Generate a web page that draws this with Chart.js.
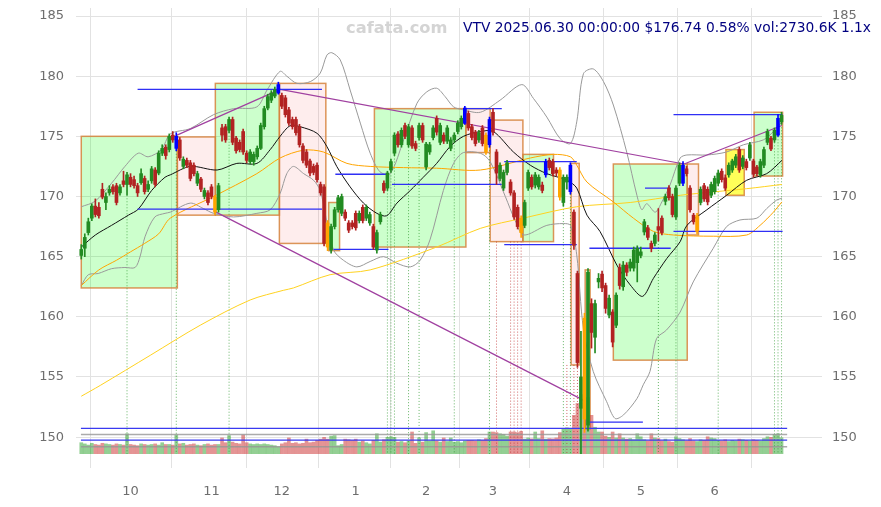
<!DOCTYPE html>
<html>
<head>
<meta charset="utf-8">
<title>VTV daily</title>
<script src="https://cdn.jsdelivr.net/npm/chart.js@4.4.1/dist/chart.umd.min.js"></script>
<style>
  body { margin: 0; background: #fff; }
  #wrap { position: relative; width: 881px; height: 507px; }
  #mark { position: absolute; left: 346px; top: 18px; font: bold 16.3px "DejaVu Sans"; color: #d4d4d4; }
  #head { position: absolute; right: 10px; top: 19px; font: 13.8px "DejaVu Sans"; color: #000080; white-space: nowrap; }
</style>
</head>
<body>
<div id="wrap">
  <canvas id="chart" width="881" height="507"></canvas>
  <div id="mark">cafata.com</div>
  <div id="head">VTV 2025.06.30 00:00:00 $176.74 0.58% vol:2730.6K 1.1x</div>
</div>
<script>
// ---- data (trading day index 0 = 2024-09-11) ----
const monthTicks = [14, 37, 57, 78, 98, 117, 138, 159, 180];
const monthLabels = ['10', '11', '12', '1', '2', '3', '4', '5', '6'];
const priceTicks = [150, 155, 160, 165, 170, 175, 180, 185];

const open = [
  165.1, 165.7, 167.0, 168.2, 169.2, 169.1, 170.6, 169.5, 170.3, 170.8,
  170.9, 170.3, 171.3, 171.0, 171.6, 171.4, 170.9, 171.15, 171.5, 170.6,
  171.3, 172.2, 171.95, 173.6, 174.1, 173.9, 175.1, 174.0, 174.7, 172.5,
  173.0, 172.8, 172.6, 171.1, 171.45, 170.0, 170.3, 170.8, 169.95, 168.9,
  175.7, 175.8, 175.5, 176.4, 174.85, 174.5, 175.4, 173.6, 172.9, 172.9,
  173.3, 174.0, 175.8, 177.35, 178.0, 178.35, 178.6, 178.4, 178.2, 177.2,
  176.4, 176.4, 175.8, 174.2, 173.7, 172.95, 172.5, 172.6, 171.0, 170.8,
  167.8, 165.55, 167.5, 168.9, 168.6, 168.7, 167.8, 167.8, 168.6, 168.0,
  169.1, 168.2, 167.8, 167.5, 165.55, 167.9, 171.1, 170.7, 172.2, 173.6,
  175.2, 174.3, 175.9, 174.3, 175.7, 174.4, 174.9, 175.9, 172.45, 173.7,
  174.9, 176.5, 174.5, 175.1, 174.6, 174.0, 174.7, 175.4, 175.8, 176.1,
  176.9, 175.8, 175.35, 174.7, 175.7, 175.1, 174.3, 177.0, 173.7, 171.5,
  170.7, 172.0, 171.2, 170.3, 169.1, 168.2, 167.6, 170.7, 171.6, 170.95,
  170.8, 170.95, 171.8, 173.0, 172.9, 172.2, 172.2, 169.5, 171.2, 170.4,
  168.7, 163.6, 152.4, 159.9, 151.0, 161.1, 158.3, 162.9, 163.55, 162.6,
  160.15, 160.4, 159.3, 164.1, 162.5, 164.3, 164.05, 164.05, 164.5, 165.1,
  167.05, 167.4, 166.1, 166.1, 167.5, 168.2, 169.6, 170.7, 170.0, 168.3,
  171.1, 171.1, 172.3, 170.7, 168.45, 167.1, 169.5, 170.9, 170.6, 170.1,
  170.4, 171.1, 172.1, 171.55, 171.8, 172.2, 172.6, 173.9, 172.5, 172.9,
  173.2, 172.95, 172.45, 171.8, 172.6, 174.5, 174.85, 174.7, 175.1, 176.2
];
const high = [
  166.0, 166.9, 168.2, 169.4, 169.8, 169.5, 171.1, 170.3, 170.9, 171.0,
  171.1, 171.0, 172.1, 172.0, 171.9, 171.7, 171.1, 172.3, 171.7, 171.3,
  172.5, 172.4, 173.8, 174.3, 174.3, 175.2, 175.4, 175.3, 174.9, 173.3,
  173.2, 173.0, 172.8, 172.1, 171.6, 170.7, 170.5, 171.0, 170.1, 171.1,
  176.0, 176.0, 176.6, 176.6, 175.0, 174.7, 175.6, 173.8, 173.9, 173.7,
  174.2, 176.1, 177.5, 178.5, 178.8, 179.1, 179.5, 178.6, 178.4, 177.4,
  176.6, 176.6, 176.0, 174.4, 173.9, 173.1, 172.7, 172.8, 171.2, 171.0,
  168.0, 167.7, 169.1, 170.1, 170.2, 168.9, 168.0, 168.0, 168.8, 168.8,
  169.3, 169.3, 168.7, 167.7, 167.2, 168.7, 171.3, 172.1, 173.1, 175.3,
  175.4, 175.7, 176.1, 176.0, 175.9, 174.6, 176.1, 176.1, 174.5, 174.5,
  175.9, 176.7, 176.1, 175.3, 175.9, 174.9, 175.3, 176.3, 176.7, 177.5,
  177.1, 176.0, 175.5, 175.5, 175.9, 175.3, 176.6, 177.3, 173.9, 172.8,
  172.2, 173.0, 171.4, 170.5, 169.3, 168.4, 169.7, 172.2, 171.8, 172.0,
  171.8, 171.2, 173.1, 173.2, 173.1, 172.4, 172.4, 171.8, 171.8, 172.8,
  168.9, 163.8, 158.8, 160.3, 164.0, 161.5, 161.4, 163.6, 163.8, 162.8,
  161.8, 160.6, 162.0, 164.4, 164.6, 164.5, 164.8, 165.8, 165.9, 165.8,
  168.1, 167.6, 166.3, 167.0, 169.0, 168.4, 170.2, 170.9, 170.2, 170.9,
  172.8, 172.9, 172.5, 170.9, 168.6, 168.6, 170.8, 171.1, 170.8, 171.2,
  171.7, 172.2, 172.3, 171.8, 172.8, 173.1, 173.5, 174.1, 173.4, 173.1,
  174.5, 173.1, 172.6, 173.1, 174.1, 175.6, 175.0, 175.7, 176.8, 177.0
];
const low = [
  164.8, 165.0, 166.8, 168.0, 168.3, 168.2, 169.8, 168.9, 170.1, 170.2,
  169.3, 170.1, 170.8, 170.1, 170.8, 170.7, 170.0, 171.0, 170.2, 170.4,
  171.1, 170.8, 171.8, 173.4, 173.1, 173.7, 174.5, 173.8, 173.0, 172.3,
  172.4, 171.3, 171.7, 170.9, 170.4, 169.8, 169.3, 169.8, 168.5, 168.7,
  174.6, 174.5, 175.3, 174.3, 173.6, 173.7, 173.5, 172.8, 172.7, 172.6,
  173.1, 173.9, 175.6, 177.2, 177.8, 178.2, 178.5, 177.3, 176.6, 175.9,
  175.6, 175.1, 174.1, 172.8, 172.4, 171.7, 171.8, 171.2, 170.1, 165.9,
  165.5, 165.3, 167.3, 168.7, 168.4, 168.0, 167.0, 167.3, 167.2, 167.8,
  167.8, 168.0, 167.6, 165.6, 165.3, 167.7, 170.3, 170.5, 172.0, 173.4,
  174.1, 174.1, 174.8, 174.1, 174.0, 173.8, 174.7, 174.5, 172.2, 173.5,
  174.7, 175.1, 174.3, 174.4, 174.4, 173.8, 174.5, 175.2, 175.6, 176.0,
  175.5, 174.7, 174.2, 174.5, 174.2, 173.5, 174.1, 175.1, 171.0, 171.3,
  170.5, 171.8, 170.1, 168.1, 167.3, 166.6, 167.4, 170.5, 170.6, 170.7,
  170.6, 170.3, 171.6, 172.2, 171.7, 171.7, 169.7, 169.2, 170.6, 170.2,
  165.6, 155.8, 148.6, 150.4, 150.5, 157.4, 157.0, 162.4, 162.1, 160.3,
  159.9, 157.5, 159.1, 162.3, 162.2, 163.4, 163.8, 163.8, 162.9, 164.9,
  166.8, 166.4, 165.4, 165.9, 166.3, 166.8, 169.3, 169.7, 168.3, 168.1,
  170.9, 170.9, 171.7, 168.7, 167.7, 166.9, 169.3, 169.6, 169.3, 169.9,
  170.2, 170.9, 171.2, 170.5, 171.6, 172.0, 172.4, 172.0, 172.3, 172.2,
  173.0, 171.6, 171.7, 171.6, 172.4, 174.3, 173.8, 174.5, 175.0, 176.0
];
const close = [
  165.6, 166.6, 167.9, 169.2, 168.5, 168.4, 169.95, 170.0, 170.6, 170.4,
  169.5, 170.8, 171.0, 171.8, 171.0, 170.9, 170.3, 171.9, 170.4, 171.0,
  172.3, 171.0, 173.6, 174.0, 173.4, 175.0, 174.7, 175.0, 173.2, 173.1,
  172.6, 171.5, 171.9, 171.9, 170.6, 170.5, 169.5, 170.0, 168.7, 170.9,
  175.1, 174.7, 176.4, 174.5, 173.8, 173.9, 173.7, 173.0, 173.7, 173.5,
  174.0, 175.9, 177.3, 178.3, 178.6, 178.9, 179.3, 177.5, 176.8, 176.1,
  175.8, 175.3, 174.3, 173.0, 172.6, 171.95, 172.0, 171.4, 170.3, 166.1,
  165.8, 167.5, 168.9, 169.9, 170.0, 168.2, 167.2, 167.5, 167.4, 168.6,
  168.0, 169.1, 168.5, 165.8, 167.0, 168.5, 170.5, 171.95, 172.9, 175.1,
  174.3, 175.5, 175.0, 175.8, 174.2, 174.0, 175.9, 174.7, 174.35, 174.3,
  175.7, 175.35, 175.9, 174.6, 175.7, 174.7, 175.1, 176.1, 176.5, 177.35,
  175.7, 174.9, 174.4, 175.3, 174.4, 173.7, 176.4, 175.35, 171.95, 172.6,
  172.0, 172.8, 170.3, 168.3, 167.5, 167.0, 169.5, 172.0, 170.8, 171.8,
  171.6, 170.5, 172.9, 172.4, 171.9, 171.95, 169.95, 171.6, 171.6, 172.6,
  165.95, 156.2, 155.0, 151.5, 163.7, 158.7, 161.1, 163.2, 162.4, 160.7,
  161.55, 157.9, 161.8, 162.6, 164.3, 163.7, 164.55, 165.55, 165.7, 165.4,
  167.9, 166.6, 165.7, 166.8, 167.2, 167.0, 170.0, 169.9, 168.5, 170.7,
  172.6, 172.6, 171.9, 168.9, 167.9, 168.4, 170.6, 169.8, 169.55, 171.0,
  171.5, 171.95, 171.4, 170.7, 172.6, 172.95, 173.3, 172.2, 173.2, 172.4,
  174.3, 171.85, 171.9, 172.9, 173.9, 175.4, 173.95, 175.5, 176.5, 176.74
];
// volume, thousands of shares
const volume = [
  1900, 1700, 1500, 1800, 1600, 1500, 1800, 1700, 1600, 1500,
  1700, 1600, 1500, 3400, 1600, 1500, 1400, 1700, 1600, 1500,
  1600, 1700, 1500, 1900, 1600, 1600, 1500, 3200, 1700, 1800,
  1500, 1600, 1700, 1500, 1400, 1600, 1700, 1500, 1600, 1600,
  2700, 1900, 3100, 2000, 1800, 1700, 3200, 1900, 1700, 1600,
  1700, 1600, 1700, 1600, 1500, 1400, 1200, 1700, 1900, 2700,
  1800, 1900, 1700, 1800, 2500, 1900, 2000, 2300, 2500, 2800,
  2500, 3000, 3100, 1400, 1600, 2500, 2400, 2300, 2500, 2000,
  2200, 1900, 1700, 2300, 3400, 2000, 2400, 2800, 2900, 2800,
  2000, 2100, 1900, 2200, 3700, 1800, 2700, 2000, 3600, 2200,
  3900, 2200, 2000, 2700, 2100, 2700, 2000, 2100, 1900, 2200,
  2300, 2300, 2200, 2400, 2300, 2600, 3700, 3700, 3600, 3400,
  3300, 3000, 3700, 3700, 3600, 3800, 2500, 2700, 2550, 3700,
  2600, 3900, 2500, 2600, 2550, 2700, 3600, 4200, 4400, 4300,
  6500, 8500, 10000, 8500, 9500, 6500, 4500, 3700, 3700, 3000,
  2800, 3700, 2700, 3400, 2700, 2500, 2600, 2400, 3400, 2900,
  2400, 2200, 3400, 2700, 2600, 2200, 2500, 2100, 2000, 2900,
  2600, 2400, 2200, 2600, 2200, 2100, 2400, 2300, 2900, 2700,
  2600, 2300, 2200, 2400, 2100, 2300, 2200, 2500, 2400, 2300,
  2200, 2400, 2300, 2200, 2600, 2900, 2800, 3300, 3400, 2730.6
];
const blueDays = [27, 56, 109, 116, 132, 139, 171, 198];
const orangeDays = [38, 70, 115, 125, 136, 143, 175];

// moving averages and bands, sampled along the day index
const maShortX = [0, 4, 8.6, 13.4, 16.2, 20, 23.8, 25.3, 31, 38.6, 44.2, 49.9, 53.7, 56.5, 59.4, 62.2, 67, 69.8, 72.6, 76.4, 80.2, 84, 86.8, 89.7, 93.5, 97.2, 101, 104.8, 108.6, 113.4, 117.1, 122.8, 127.6, 132.3, 138, 140.8, 143.7, 147.4, 152.2, 156, 159.5, 162.6, 166.4, 170.2, 172.1, 177.8, 183.4, 189.1, 194.8, 199.1];
const maShortY = [165.8, 166.8, 167.6, 168.45, 168.95, 170.5, 171.6, 171.8, 172.5, 172.2, 172.75, 172.75, 173.9, 175.0, 175.9, 175.8, 175.25, 174.15, 172.5, 170.8, 169.45, 168.6, 168.4, 169.45, 170.5, 171.6, 172.75, 174.15, 175.0, 175.4, 175.4, 173.7, 172.6, 171.9, 171.35, 170.7, 168.45, 167.1, 164.3, 162.65, 161.7, 163.2, 164.85, 166.25, 167.6, 168.9, 170.1, 171.35, 171.9, 173.0];
const maMidX = [0, 5, 10, 14, 18, 22, 25.3, 37.6, 49.9, 56.5, 63.2, 68.8, 75.5, 82.1, 91.6, 101, 113.4, 127.6, 134.2, 139, 140.8, 143.7, 151.2, 156.9, 162.6, 168.3, 179.6, 189.1, 192.9, 196.7, 199.1];
const maMidY = [162.6, 163.9, 164.7, 165.4, 166.1, 166.9, 168.2, 170.0, 171.9, 173.2, 173.85, 173.7, 172.75, 172.5, 172.4, 172.35, 172.2, 173.2, 173.5, 173.3, 172.6, 171.2, 169.55, 168.2, 167.1, 166.8, 166.7, 166.8, 167.6, 168.7, 169.55];
const maLongX = [0, 5.4, 19.6, 33.8, 48, 57.4, 60.3, 70.7, 82.1, 101, 113.4, 125.6, 140.8, 156, 170.2, 189.1, 199.1];
const maLongY = [153.4, 154.3, 156.8, 159.3, 161.4, 162.2, 162.4, 163.5, 163.9, 165.8, 167.35, 168.2, 169.15, 169.5, 170.1, 170.65, 171.0];
const bandUpX = [0, 3.9, 8.6, 12.4, 16.2, 19, 22.8, 25.3, 31, 37.6, 43.3, 49.9, 52.8, 56.5, 58.4, 61.3, 65.1, 67.9, 69.8, 71.2, 73.6, 76.4, 79.3, 82.1, 84.9, 87.8, 91.6, 95.4, 98.2, 101, 103.4, 105.8, 108.6, 113.4, 119, 125.2, 128.5, 132.3, 136.1, 139, 140.8, 142.7, 145.5, 148.4, 151.2, 155, 157.9, 159.3, 160.7, 163.1, 165, 167.3, 170.2, 172.1, 177.8, 183.4, 188.2, 193.8, 196.7, 199.1];
const bandUpY = [169.15, 169.6, 171.1, 172.5, 173.6, 173.3, 173.9, 175.2, 175.65, 176.8, 177.3, 177.45, 178.85, 180.4, 180.0, 179.4, 179.55, 180.25, 181.75, 181.95, 181.35, 178.85, 176.1, 173.6, 172.05, 171.9, 174.7, 177.75, 178.7, 179.0, 178.3, 177.45, 177.2, 177.0, 178.0, 179.3, 178.15, 176.6, 174.8, 174.4, 176.2, 180.2, 180.6, 179.55, 177.6, 173.7, 170.1, 168.9, 169.4, 168.7, 169.55, 170.95, 173.2, 173.45, 173.45, 173.7, 174.3, 174.7, 175.4, 176.2];
const bandLowX = [0, 2, 4.8, 8.6, 12.4, 15.3, 16.7, 18.1, 20.9, 23.8, 25.3, 31, 34.7, 37.6, 43.3, 49.9, 53.7, 56.5, 58.4, 60.3, 63.2, 66, 67.9, 69.3, 71.7, 74.5, 78.3, 82.1, 85.9, 89.7, 93.5, 96.3, 99.1, 102.9, 105.8, 108.6, 113.4, 116.2, 120.5, 123.3, 125.7, 132.3, 137, 139, 140.8, 142.7, 145.5, 149.3, 151.7, 154.1, 157.9, 159.7, 161.6, 163.5, 166.3, 170.2, 173.9, 179.6, 183.4, 187.2, 192, 194.8, 197.6, 199.1];
const bandLowY = [162.6, 163.5, 163.6, 164.0, 164.1, 164.1, 165.0, 166.65, 168.3, 168.6, 168.7, 169.45, 169.0, 168.6, 168.3, 168.6, 168.9, 170.25, 171.9, 172.5, 171.9, 171.35, 170.5, 168.6, 165.55, 164.7, 164.15, 164.6, 165.0, 164.45, 164.15, 164.7, 166.4, 170.5, 172.75, 173.65, 173.6, 172.9, 170.0, 168.0, 166.8, 167.6, 167.75, 167.6, 165.15, 159.0, 155.45, 152.95, 151.55, 151.85, 153.2, 154.35, 155.45, 158.2, 158.9, 160.4, 162.9, 165.7, 167.5, 168.05, 168.2, 169.0, 169.7, 169.85];

// range boxes: from/to day index, top/bottom price, kind
const boxFrom = [0, 27.3, 38.1, 56.3, 70.3, 83.3, 109.3, 116.2, 125.5, 139.2, 143.2, 151.2, 172.2, 183.2, 191.2];
const boxTo = [27.3, 38.1, 56.3, 69.5, 73.4, 109.3, 116.2, 125.5, 134.2, 141.5, 144.6, 172.2, 175.4, 188.4, 199.3];
const boxTop = [175.0, 174.95, 179.4, 179.4, 169.5, 177.3, 177.3, 176.35, 173.5, 172.75, 163.9, 172.7, 172.7, 173.9, 177.0];
const boxBottom = [162.4, 168.45, 168.45, 166.1, 165.5, 165.8, 173.65, 166.25, 166.25, 156.0, 150.7, 156.4, 166.8, 170.1, 171.7];
const boxKind = ['g', 'p', 'g', 'p', 'g', 'g', 'p', 'p', 'g', 'p', 'g', 'g', 'p', 'y', 'g'];

// level lines: price, from, to
const levelPrice = [178.9, 168.95, 171.85, 165.6, 171.0, 177.3, 172.9, 166.0, 165.7, 170.7, 176.8, 167.1, 151.25];
const levelFrom = [16.0, 16.0, 72.2, 71.7, 88.3, 108.6, 120.2, 120.2, 144.4, 160.2, 168.3, 168.3, 144.4];
const levelTo = [68.4, 68.4, 87.3, 87.3, 119.5, 119.5, 140.8, 140.8, 167.5, 167.5, 199.3, 199.3, 159.6];
const volLineBlue = [150.73, 149.75];
const volLineGrey = [150.23, 149.2];

// trend lines: [fromIdx, fromPrice, toIdx, toPrice]
const trendLines = [
  [27.2, 175.1, 56.5, 178.9],
  [56.5, 178.9, 171.3, 172.7],
  [171.3, 172.7, 199.1, 175.9],
  [38.3, 168.7, 143.5, 152.95]
];

// signal markers: day, price where the dotted line starts, kind
const signalDay = [13, 27, 42, 87, 88, 89, 93, 96, 106, 116, 137, 139, 164, 169, 181, 197, 198, 199, 118, 122, 123, 124, 125, 138, 140, 141];
const signalTop = [170.1, 173.8, 175.3, 170.5, 172.0, 173.4, 174.1, 174.7, 174.5, 174.1, 169.2, 170.2, 166.3, 168.1, 170.9, 174.5, 175.0, 176.0, 166.25, 166.25, 166.25, 166.25, 166.25, 156.0, 156.0, 156.0];
const signalKind = ['g', 'g', 'g', 'g', 'g', 'g', 'g', 'g', 'g', 'g', 'g', 'g', 'g', 'g', 'g', 'g', 'g', 'g', 'r', 'r', 'r', 'r', 'r', 'r', 'r', 'r'];

const PRICE_MIN = 148.6;
const PRICE_MAX = 185.665;

const COLORS = {
  up: '#228b22',
  down: '#b22222',
  blue: '#0000ff',
  orange: '#ffa500',
  grid: '#e2e2e2',
  tick: '#6e6e6e'
};

/**
 * Colour of one candle
 */
function candleColor(i) {
  if (blueDays.includes(i)) return COLORS.blue;
  if (orangeDays.includes(i)) return COLORS.orange;
  return close[i] >= open[i] ? COLORS.up : COLORS.down;
}

/**
 * Turn [x0, y0, x1, y1] pieces into one line dataset with gaps
 */
function segments(list) {
  const pts = [];
  list.forEach(([x0, y0, x1, y1]) => {
    pts.push({ x: x0, y: y0 }, { x: x1, y: y1 }, { x: x1, y: null });
  });
  return pts;
}

function lineSet(data, color, width, order, extra = {}) {
  return {
    type: 'line', data, borderColor: color, borderWidth: width,
    pointRadius: 0, fill: false, spanGaps: false, order,
    xAxisID: 'x', yAxisID: 'y', ...extra
  };
}

function zip(xs, ys) {
  return xs.map((x, k) => ({ x, y: ys[k] }));
}

function signalSegments(kind) {
  return segments(signalDay
    .map((d, k) => [d, signalTop[k], d, PRICE_MIN, signalKind[k]])
    .filter(s => s[4] === kind));
}

const days = open.map((_, i) => i);

// range boxes go under everything else
const boxPlugin = {
  id: 'boxes',
  beforeDatasetsDraw(chart) {
    const { ctx, chartArea, scales: { x, y } } = chart;
    const fills = { g: 'rgba(0,255,0,0.2)', p: 'rgba(240,60,60,0.09)', y: 'rgba(255,255,0,0.65)' };
    ctx.save();
    ctx.beginPath();
    ctx.rect(chartArea.left, chartArea.top, chartArea.right - chartArea.left, chartArea.bottom - chartArea.top);
    ctx.clip();
    boxFrom.forEach((from, k) => {
      const x0 = x.getPixelForValue(from);
      const x1 = x.getPixelForValue(boxTo[k]);
      const y0 = y.getPixelForValue(boxTop[k]);
      const y1 = y.getPixelForValue(boxBottom[k]);
      ctx.fillStyle = fills[boxKind[k]];
      ctx.fillRect(x0, y0, x1 - x0, y1 - y0);
      ctx.strokeStyle = 'rgba(214,130,60,0.85)';
      ctx.lineWidth = 1.5;
      ctx.strokeRect(x0, y0, x1 - x0, y1 - y0);
    });
    ctx.restore();
  }
};

const datasets = [
  {
    type: 'bar', label: 'volume', yAxisID: 'vol', xAxisID: 'x', order: 20, grouped: false,
    data: days.map(i => ({ x: i, y: volume[i] })),
    backgroundColor: days.map(i => close[i] >= open[i] ? 'rgba(40,160,40,0.5)' : 'rgba(205,60,60,0.55)'),
    barThickness: 3
  },
  lineSet(signalSegments('g'), 'rgba(40,150,40,0.7)', 1, 15, { borderDash: [1, 2] }),
  lineSet(signalSegments('r'), 'rgba(190,40,40,0.7)', 1, 15, { borderDash: [1, 2] }),
  lineSet(segments(volLineGrey.map(v => [-0.1, v, 200.6, v])), 'rgba(150,150,150,0.8)', 1.5, 14),
  lineSet(segments(volLineBlue.map(v => [-0.1, v, 200.6, v])), '#3a3af0', 1.3, 14),
  lineSet(zip(bandUpX, bandUpY), '#999', 1, 12, { tension: 0.3 }),
  lineSet(zip(bandLowX, bandLowY), '#999', 1, 12, { tension: 0.3 }),
  lineSet(zip(maLongX, maLongY), '#ffd21f', 1, 11, { tension: 0.3 }),
  lineSet(zip(maMidX, maMidY), '#ffa500', 1, 10, { tension: 0.3 }),
  lineSet(zip(maShortX, maShortY), '#111', 1, 9, { tension: 0.3 }),
  lineSet(segments(trendLines), '#a040a0', 1.2, 8),
  lineSet(segments(levelPrice.map((p, k) => [levelFrom[k], p, levelTo[k], p])), '#2f2ff5', 1.3, 7),
  {
    type: 'bar', label: 'wick', yAxisID: 'y', xAxisID: 'x', order: 2, grouped: false,
    data: days.map(i => ({ x: i, y: [low[i], high[i]] })),
    backgroundColor: days.map(candleColor), barThickness: 1
  },
  {
    type: 'bar', label: 'body', yAxisID: 'y', xAxisID: 'x', order: 1, grouped: false,
    data: days.map(i => ({ x: i, y: [open[i], close[i]] })),
    backgroundColor: days.map(candleColor), barThickness: 3, minBarLength: 1
  }
];

Chart.defaults.font.family = '"DejaVu Sans", sans-serif';

// tick gap comes from a transparent tick mark, so the label padding does not grow the layout
const priceAxis = (position, width, gap, grid) => ({
  type: 'linear', position, min: PRICE_MIN, max: PRICE_MAX,
  grid: {
    display: true, drawOnChartArea: grid, color: COLORS.grid,
    drawTicks: true, tickLength: gap, tickColor: 'rgba(0,0,0,0)'
  },
  border: { display: false },
  ticks: { padding: 0, color: COLORS.tick, font: { size: 13 } },
  afterBuildTicks(scale) { scale.ticks = priceTicks.map(v => ({ value: v })); },
  afterFit(scale) { scale.width = width; }
});

new Chart(document.getElementById('chart'), {
  type: 'bar',
  data: { datasets },
  options: {
    responsive: false,
    animation: false,
    devicePixelRatio: 1,
    layout: { padding: { top: 8 } },
    plugins: { legend: { display: false }, tooltip: { enabled: false } },
    scales: {
      x: {
        type: 'linear', min: -1.5, max: 210.5, offset: false,
        grid: { color: COLORS.grid, tickLength: 14 },
        border: { display: false },
        ticks: {
          padding: 16, color: COLORS.tick, font: { size: 13 }, maxRotation: 0,
          callback: v => monthLabels[monthTicks.indexOf(v)]
        },
        afterBuildTicks(scale) { scale.ticks = monthTicks.map(v => ({ value: v })); },
        afterFit(scale) { scale.height = 53; }
      },
      y: priceAxis('left', 76, 12, true),
      yR: priceAxis('right', 59, 10, false),
      vol: { type: 'linear', display: false, min: 0, max: 75000 }
    }
  },
  plugins: [boxPlugin]
});
</script>
</body>
</html>
